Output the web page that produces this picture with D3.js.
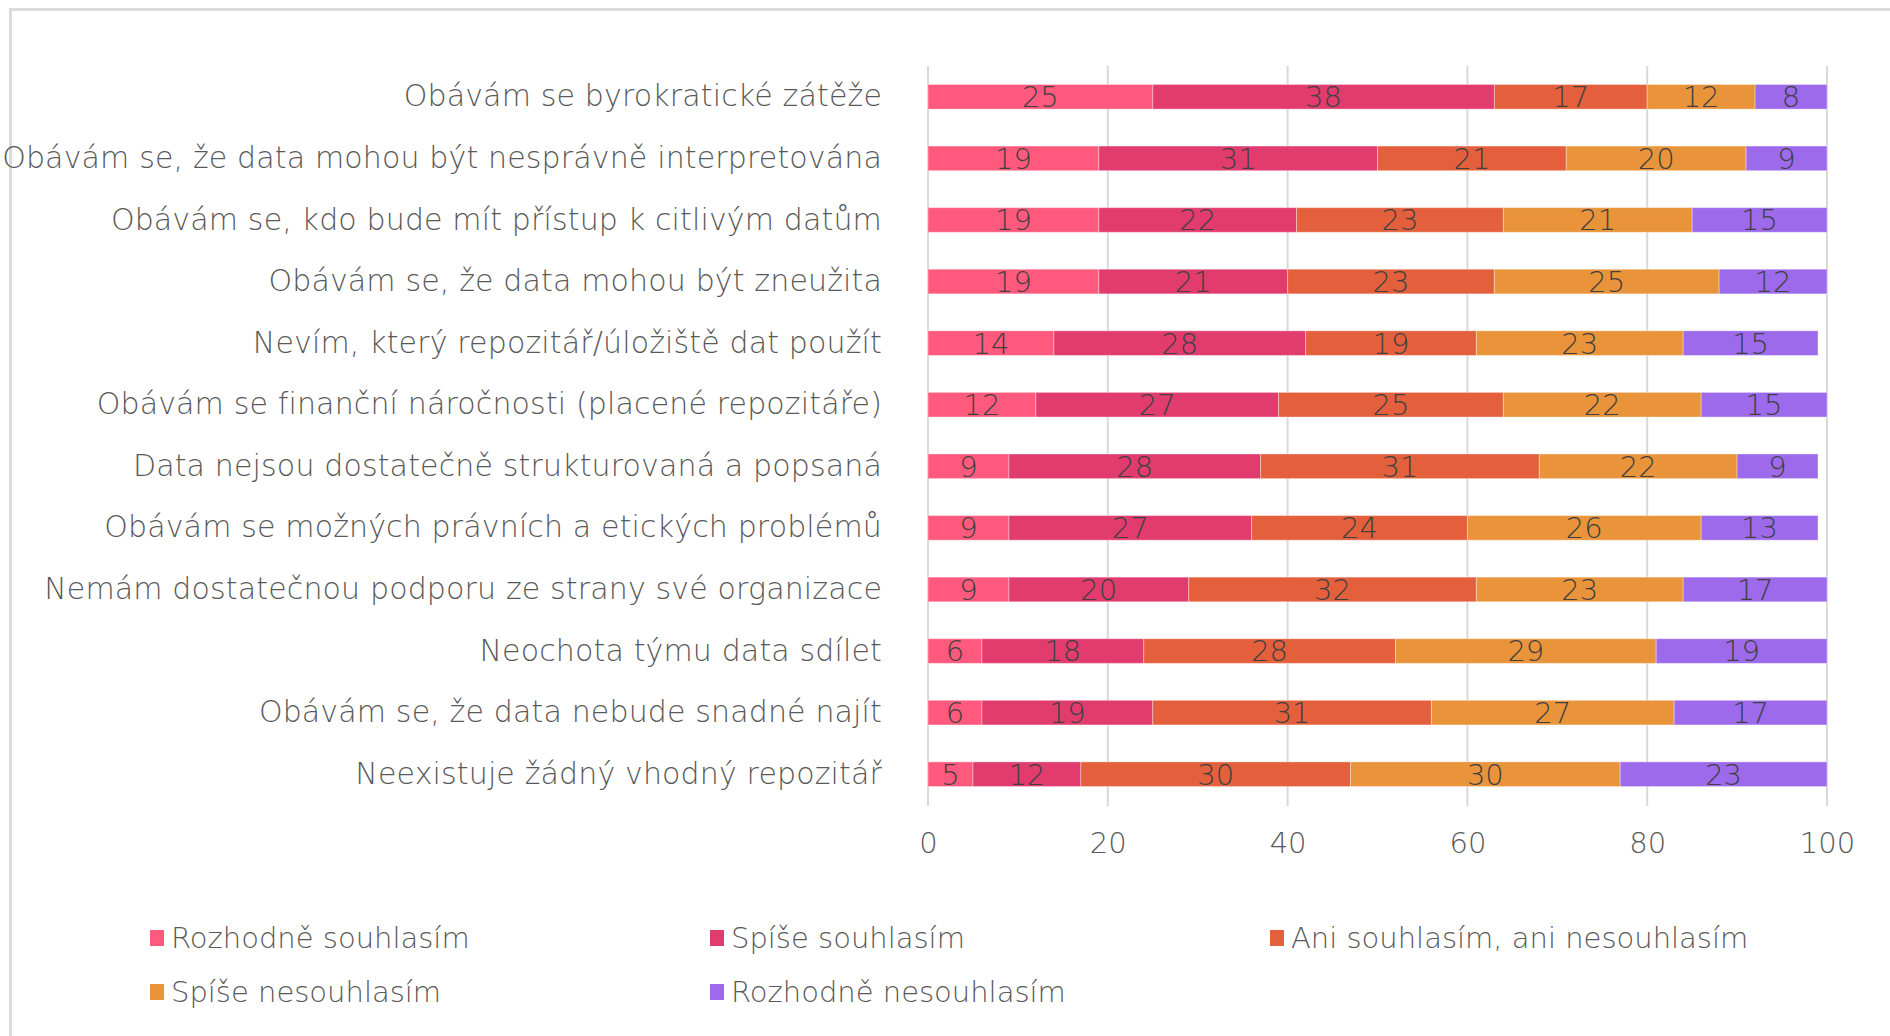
<!DOCTYPE html>
<html>
<head>
<meta charset="utf-8">
<script src="https://cdn.jsdelivr.net/npm/d3@7"></script>
<style>
  html, body { margin: 0; padding: 0; background: #fff; }
  svg { display: block; }
  text { font-family: "DejaVu Sans", sans-serif; font-weight: 200; }
</style>
</head>
<body>
<svg id="chart" width="1890" height="1036"></svg>
<script>
// Survey statements (top to bottom) and answer categories
const categories = [
  "Obávám se byrokratické zátěže",
  "Obávám se, že data mohou být nesprávně interpretována",
  "Obávám se, kdo bude mít přístup k citlivým datům",
  "Obávám se, že data mohou být zneužita",
  "Nevím, který repozitář/úložiště dat použít",
  "Obávám se finanční náročnosti (placené repozitáře)",
  "Data nejsou dostatečně strukturovaná a popsaná",
  "Obávám se možných právních a etických problémů",
  "Nemám dostatečnou podporu ze strany své organizace",
  "Neochota týmu data sdílet",
  "Obávám se, že data nebude snadné najít",
  "Neexistuje žádný vhodný repozitář"
];

const seriesNames = [
  "Rozhodně souhlasím",
  "Spíše souhlasím",
  "Ani souhlasím, ani nesouhlasím",
  "Spíše nesouhlasím",
  "Rozhodně nesouhlasím"
];

// Percentages per series, in the order of categories
const rozhodneSouhlasim   = [25, 19, 19, 19, 14, 12,  9,  9,  9,  6,  6,  5];
const spiseSouhlasim      = [38, 31, 22, 21, 28, 27, 28, 27, 20, 18, 19, 12];
const aniAni              = [17, 21, 23, 23, 19, 25, 31, 24, 32, 28, 31, 30];
const spiseNesouhlasim    = [12, 20, 21, 25, 23, 22, 22, 26, 23, 29, 27, 30];
const rozhodneNesouhlasim = [ 8,  9, 15, 12, 15, 15,  9, 13, 17, 19, 17, 23];

const xTicks = [0, 20, 40, 60, 80, 100];

const colors = ["#FF5A7D", "#E23C6F", "#E4603C", "#E9943A", "#9D6AEC"];

const seriesValues = [rozhodneSouhlasim, spiseSouhlasim, aniAni, spiseNesouhlasim, rozhodneNesouhlasim];
const rows = categories.map((c, i) => {
  const r = { category: c };
  seriesNames.forEach((s, k) => { r[s] = seriesValues[k][i]; });
  return r;
});
const stacked = d3.stack().keys(seriesNames)(rows);

const svg = d3.select("#chart");
const labelFont = 30;

// Frame of the chart area (top and left edges)
svg.append("line").attr("x1", 10.5).attr("x2", 1890).attr("y1", 9.5).attr("y2", 9.5)
  .attr("stroke", "#dadada").attr("stroke-width", 3);
svg.append("line").attr("x1", 10.5).attr("x2", 10.5).attr("y1", 8).attr("y2", 1036)
  .attr("stroke", "#dadada").attr("stroke-width", 3);

const g = svg.append("g");

const x = d3.scaleLinear().domain([0, 100]).range([928, 1827]).clamp(true);
const y = d3.scaleBand().domain(categories).range([66, 805]).paddingInner(0.6).paddingOuter(0.3);

// Vertical gridlines
g.append("g").selectAll("line").data(xTicks).join("line")
  .attr("x1", d => x(d)).attr("x2", d => x(d))
  .attr("y1", 66).attr("y2", 806)
  .attr("stroke", "#d9d9d9").attr("stroke-width", 2);

// X axis tick labels
const xAxis = d3.axisBottom(x).tickValues(xTicks).tickSize(0).tickPadding(0);
const ax = g.append("g").attr("transform", "translate(0,843)").call(xAxis);
ax.select(".domain").remove();
ax.selectAll("text")
  .attr("dy", "0.35em")
  .attr("font-size", 29)
  .attr("font-family", "'DejaVu Sans', sans-serif")
  .attr("font-weight", 200)
  .attr("fill", "#595959");

// Category labels
const yAxis = d3.axisLeft(y).tickSize(0).tickPadding(0);
const ay = g.append("g").attr("transform", "translate(882,0)").call(yAxis);
ay.select(".domain").remove();
ay.selectAll("text")
  .attr("font-size", labelFont)
  .attr("letter-spacing", 0.15)
  .attr("font-family", "'DejaVu Sans', sans-serif")
  .attr("font-weight", 200)
  .attr("fill", "#595959");

// Stacked bars
const layers = g.append("g").selectAll("g").data(stacked).join("g")
  .attr("fill", (d, i) => colors[i]);

layers.selectAll("rect").data(d => d).join("rect")
  .attr("x", d => x(d[0]))
  .attr("width", d => x(d[1]) - x(d[0]))
  .attr("y", d => y(d.data.category))
  .attr("height", y.bandwidth())
  .attr("stroke", "#fff").attr("stroke-opacity", 0.35).attr("stroke-width", 1);

// Value labels
layers.selectAll("text").data(d => d.map(v => ({ v, key: d.key }))).join("text")
  .attr("x", d => (x(d.v[0]) + x(d.v[1])) / 2)
  .attr("y", d => y(d.v.data.category) + y.bandwidth() / 2)
  .attr("dy", "0.36em")
  .attr("text-anchor", "middle")
  .attr("font-size", 29)
  .attr("fill", "#404040")
  .text(d => d.v.data[d.key]);

// Legend
const legendPos = [[150, 938], [710, 938], [1270, 938], [150, 992], [710, 992]];
const legend = g.append("g").selectAll("g").data(seriesNames).join("g")
  .attr("transform", (d, i) => `translate(${legendPos[i][0]},${legendPos[i][1]})`);
legend.append("rect").attr("x", 0).attr("y", -8).attr("width", 14).attr("height", 16)
  .attr("fill", (d, i) => colors[i]);
legend.append("text").attr("x", 21).attr("dy", "0.35em")
  .attr("font-size", 29).attr("fill", "#595959")
  .text(d => d);
</script>
</body>
</html>
